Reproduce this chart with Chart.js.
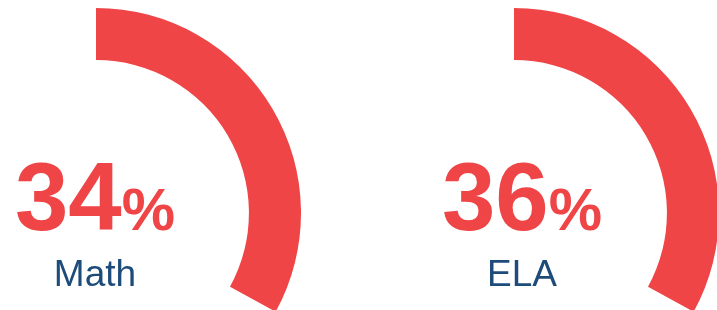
<!DOCTYPE html>
<html>
<head>
<meta charset="utf-8">
<script src="https://cdn.jsdelivr.net/npm/chart.js@4/dist/chart.umd.min.js"></script>
<style>
    html, body { margin: 0; padding: 0; background: #fff; overflow: hidden; width: 717px; height: 310px; position: relative; }
    canvas { position: absolute; }
    #mathChart { left: -109px; top: 8px; }
    #elaChart { left: 309px; top: 8px; }
</style>
</head>
<body>
<canvas id="mathChart" width="410" height="410"></canvas>
<canvas id="elaChart" width="410" height="410"></canvas>
<script>
// Dados
const subjects = ['Math', 'ELA'];
const scores = [34, 36];        // percentuais escritos no centro
const arcShares = [33, 33];     // parte do anel preenchida

const RED = '#ef4547';
const BLUE = '#1d4b7a';
const FONT = "'Liberation Sans', Arial, sans-serif";

// texto central (numero grande + % menor + nome da disciplina)
const centerText = {
    id: 'centerText',
    afterDraw(chart, args, opts) {
        const arc = chart.getDatasetMeta(0).data[0];
        if (!arc) return;
        const ctx = chart.ctx;
        const cx = arc.x + (opts.shiftX || 0);
        const cy = arc.y;
        const num = String(opts.score);

        ctx.save();
        ctx.textBaseline = 'alphabetic';
        ctx.fillStyle = RED;
        ctx.font = `bold 96px ${FONT}`;
        const wNum = ctx.measureText(num).width;
        ctx.font = `bold 60px ${FONT}`;
        const wPct = ctx.measureText('%').width;
        const left = cx - (wNum + wPct) / 2;
        ctx.font = `bold 96px ${FONT}`;
        ctx.textAlign = 'left';
        ctx.fillText(num, left, cy + 17);
        ctx.font = `bold 60px ${FONT}`;
        ctx.fillText('%', left + wNum, cy + 17);

        ctx.fillStyle = BLUE;
        ctx.font = `37px ${FONT}`;
        ctx.textAlign = 'center';
        ctx.fillText(opts.label, cx, cy + 73);
        ctx.restore();
    }
};

function makeGauge(canvasId, i, shiftX) {
    const ctx = document.getElementById(canvasId).getContext('2d');
    return new Chart(ctx, {
        type: 'doughnut',
        data: {
            labels: [subjects[i], ''],
            datasets: [{
                data: [arcShares[i], 100 - arcShares[i]],
                backgroundColor: [RED, 'rgba(0,0,0,0)'],
                borderWidth: 0,
                hoverOffset: 0,
            }]
        },
        options: {
            responsive: false,
            animation: false,
            cutout: '74.6%',
            events: [],
            plugins: {
                legend: { display: false },
                tooltip: { enabled: false },
                centerText: { score: scores[i], label: subjects[i], shiftX: shiftX },
            },
        },
        plugins: [centerText],
    });
}

makeGauge('mathChart', 0, -1);
makeGauge('elaChart', 1, 8);
</script>
</body>
</html>
